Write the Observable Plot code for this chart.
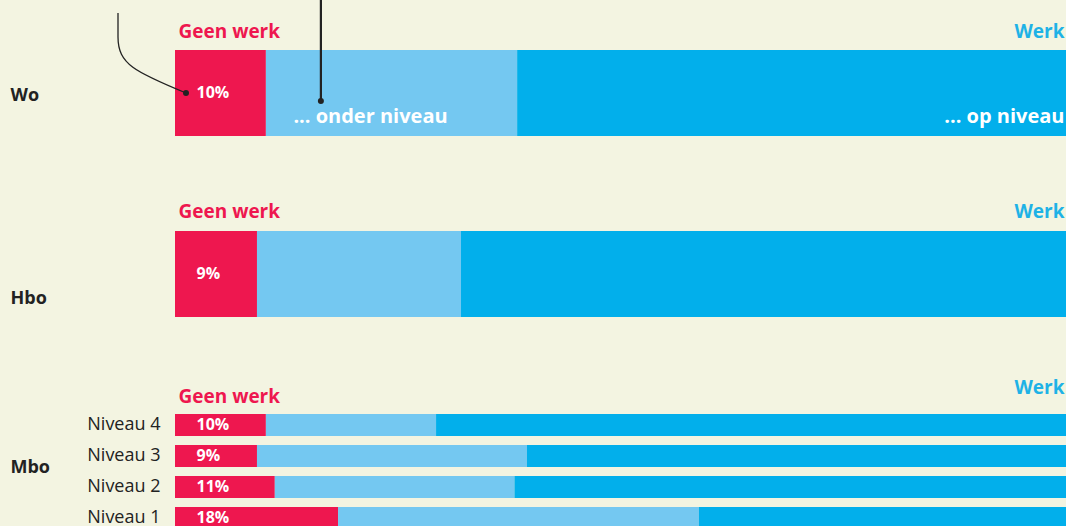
<!DOCTYPE html>
<html>
<head>
<meta charset="utf-8">
<script src="https://cdn.jsdelivr.net/npm/d3@7"></script>
<script src="https://cdn.jsdelivr.net/npm/@observablehq/plot@0.6"></script>
<style>
  html, body { margin: 0; padding: 0; background: #f3f4e1; }
  #wrap { position: relative; width: 1066px; height: 526px; overflow: hidden; background: #f3f4e1; font-family: "Open Sans", "Noto Sans", sans-serif; }
  #wrap svg { position: absolute; left: 0; overflow: visible; }
</style>
</head>
<body>
<div id="wrap"></div>
<script>
// ---- data ----
const segments = ["Geen werk", "Werk onder niveau", "Werk op niveau"];
const segmentColors = ["#ee174f", "#74c8f1", "#02afeb"];
const groups = ["Wo", "Hbo", "Mbo"];
const mboLevels = ["Niveau 4", "Niveau 3", "Niveau 2", "Niveau 1"];
const rowNames = ["Wo", "Hbo", "Niveau 4", "Niveau 3", "Niveau 2", "Niveau 1"];
const geenWerk    = [10.2,  9.2, 10.2,  9.2, 11.2, 18.3];
const onderNiveau = [28.2, 22.9, 19.1, 30.3, 26.9, 40.5];
const opNiveau    = [61.6, 67.9, 70.7, 60.5, 61.9, 41.2];

const RED = segmentColors[0], BLUE = "#1eb2e6", DARK = "#222222";
const FONT = '"Open Sans", "Noto Sans", sans-serif';

function tableFor(names) {
  const out = [];
  names.forEach(n => {
    const i = rowNames.indexOf(n);
    [geenWerk[i], onderNiveau[i], opNiveau[i]].forEach((v, k) =>
      out.push({row: n, segment: segments[k], value: v}));
  });
  return out;
}
function pctData(names) {
  return names.map(n => ({row: n, value: geenWerk[rowNames.indexOf(n)]}));
}

function groupPlot({names, top, height, marginTop, marginBottom, paddingInner, paddingOuter, extra}) {
  const svg = Plot.plot({
    width: 1066, height, marginLeft: 175, marginRight: 0, marginTop, marginBottom,
    style: {background: "transparent", fontFamily: FONT},
    x: {domain: [0, 100], axis: null},
    y: {domain: names, axis: null, paddingInner, paddingOuter},
    color: {domain: segments, range: segmentColors},
    marks: [
      Plot.barX(tableFor(names), {x: "value", y: "row", fill: "segment"}),
      Plot.text(pctData(names), {x: 0, y: "row", text: d => Math.round(d.value) + "%", dx: 21, dy: -0.5,
        textAnchor: "start", fill: "white", fontWeight: "bold", fontSize: 16}),
      ...extra
    ]
  });
  svg.style.top = top + "px";
  document.getElementById("wrap").appendChild(svg);
}

// leader lines for the Wo panel (drawn from the scales)
function woLeaders(index, scales, values, dims) {
  const x0 = scales.x(0), x1 = scales.x(geenWerk[0]);
  const yc = (dims.marginTop + dims.height - dims.marginBottom) / 2;
  const g = d3.create("svg:g");
  g.append("path")
    .attr("d", `M${x0 - 57},13 V37 C${x0 - 57},64 ${x0 - 40},72 ${x0 + 11},${yc}`)
    .attr("fill", "none").attr("stroke", "#222").attr("stroke-width", 1.3);
  g.append("path")
    .attr("d", `M${x1 + 55},0 V${yc + 8}`)
    .attr("fill", "none").attr("stroke", "#222").attr("stroke-width", 2.2);
  g.append("circle").attr("cx", x0 + 11).attr("cy", yc).attr("r", 3).attr("fill", "#222");
  g.append("circle").attr("cx", x1 + 55).attr("cy", yc + 8).attr("r", 3).attr("fill", "#222");
  return g.node();
}

function headerMarks(name, dyGeen, dyWerk) {
  return [
    Plot.text([segments[0]], {x: 0, y: () => name, text: () => "Geen werk", dx: 3, dy: dyGeen,
      textAnchor: "start", fill: RED, fontWeight: "bold", fontSize: 19}),
    Plot.text(["Werk"], {x: 100, y: () => name, text: d => d, dx: -2, dy: dyWerk,
      textAnchor: "end", fill: BLUE, fontWeight: "bold", fontSize: 19})
  ];
}

// Wo
groupPlot({
  names: ["Wo"], top: 0, height: 150, marginTop: 50, marginBottom: 14, paddingInner: 0, paddingOuter: 0,
  extra: [
    ...headerMarks("Wo", -62, -62),
    Plot.text(["Wo"], {frameAnchor: "left", y: d => d, text: d => d, dx: -165, dy: 2,
      textAnchor: "start", fill: DARK, fontWeight: "bold", fontSize: 18}),
    Plot.text(["... onder niveau"], {x: geenWerk[0], y: () => "Wo", text: d => d, dx: 27, dy: 23,
      textAnchor: "start", fill: "white", fontWeight: "bold", fontSize: 20}),
    Plot.text(["... op niveau"], {x: 100, y: () => "Wo", text: d => d, dx: -2, dy: 23,
      textAnchor: "end", fill: "white", fontWeight: "bold", fontSize: 20}),
    woLeaders
  ]
});

// Hbo
groupPlot({
  names: ["Hbo"], top: 180, height: 150, marginTop: 51, marginBottom: 13, paddingInner: 0, paddingOuter: 0,
  extra: [
    ...headerMarks("Hbo", -63, -63),
    Plot.text(["Hbo"], {frameAnchor: "left", y: d => d, text: d => d, dx: -165, dy: 24,
      textAnchor: "start", fill: DARK, fontWeight: "bold", fontSize: 18})
  ]
});

// Mbo
groupPlot({
  names: mboLevels, top: 370, height: 164, marginTop: 40, marginBottom: 0, paddingInner: 0.29, paddingOuter: 0.145,
  extra: [
    ...headerMarks("Niveau 4", -28.5, -37.5),
    Plot.text(mboLevels, {x: 0, y: d => d, text: d => d, dx: -15, dy: -1, textAnchor: "end",
      fill: DARK, fontSize: 18}),
    Plot.text(["Mbo"], {x: 0, y: () => "Niveau 3", text: d => d, dx: -165, dy: 10.5,
      textAnchor: "start", fill: DARK, fontWeight: "bold", fontSize: 18})
  ]
});
</script>
</body>
</html>
